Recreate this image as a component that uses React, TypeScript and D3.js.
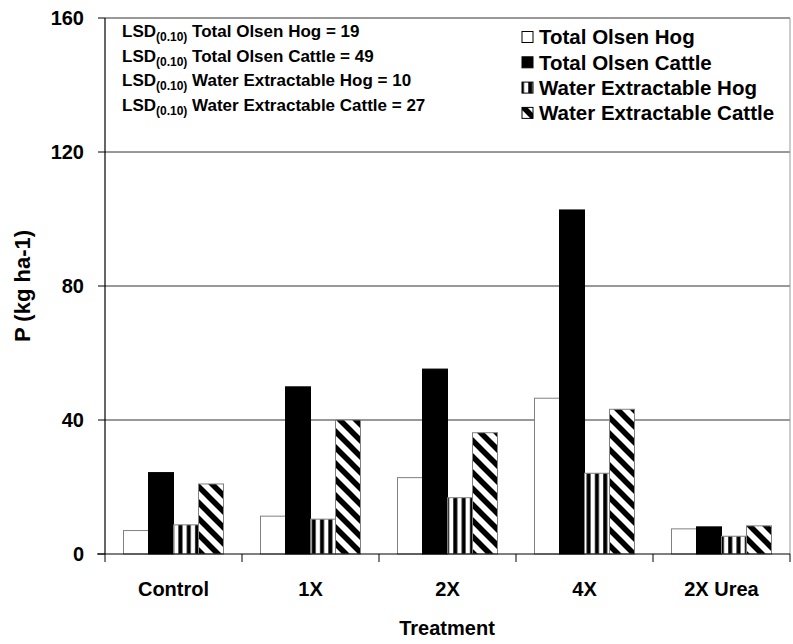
import React from "react";
import * as d3 from "d3";

const categories = ["Control", "1X", "2X", "4X", "2X Urea"];
const seriesNames = [
  "Total Olsen Hog",
  "Total Olsen Cattle",
  "Water Extractable Hog",
  "Water Extractable Cattle",
];
const totalOlsenHog = [7, 11.3, 22.8, 46.5, 7.5];
const totalOlsenCattle = [24.3, 49.9, 55.2, 102.7, 8.1];
const waterExtractableHog = [8.7, 10.4, 16.8, 24.1, 5.3];
const waterExtractableCattle = [20.9, 40, 36.2, 43.2, 8.4];
const yTicks = [0, 40, 80, 120, 160];
const lsdLabels = [
  "Total Olsen Hog = 19",
  "Total Olsen Cattle = 49",
  "Water Extractable Hog = 10",
  "Water Extractable Cattle = 27",
];

const W = 793;
const H = 644;
const M = { left: 105, right: 790, top: 18, bottom: 554 };
const FONT = "'Liberation Sans', Arial, sans-serif";

export default function App() {
  const series = [totalOlsenHog, totalOlsenCattle, waterExtractableHog, waterExtractableCattle];
  const x0 = d3.scaleBand().domain(categories).range([M.left, M.right]).paddingInner(0).paddingOuter(0);
  const barW = 25;
  const groupW = barW * 4;
  const y = d3.scaleLinear().domain([0, 160]).range([M.bottom, M.top]);

  const fills = ["#ffffff", "#000000", "url(#vstripe)", "url(#dstripe)"];
  const strokes = ["#808080", "#000000", "#808080", "#808080"];

  const bounds = categories.map((c) => x0(c) as number).concat([M.right]);

  return (
    <svg
      width={W}
      height={H}
      style={{ position: "absolute", left: 0, top: 0, background: "#fff", fontFamily: FONT }}
    >
      <defs>
        <pattern id="vstripe" patternUnits="userSpaceOnUse" width="8.33" height="8" x="0.5">
          <rect width="8.33" height="8" fill="#fff" />
          <rect x="3" width="4" height="8" fill="#000" />
        </pattern>
        <pattern id="dstripe" patternUnits="userSpaceOnUse" width="16" height="16">
          <rect width="16" height="16" fill="#fff" />
          <path d="M-4,-4 L20,20 M-4,12 L4,20 M12,-4 L20,4" stroke="#000" strokeWidth="5.5" />
        </pattern>
        <pattern id="dstripeLegend" patternUnits="userSpaceOnUse" width="11" height="11" x="522" y="31.5">
          <rect width="11" height="11" fill="#fff" />
          <path d="M0,0 L4,4" stroke="#000" strokeWidth="3" />
        </pattern>
      </defs>

      {/* gridlines */}
      {yTicks.filter((t) => t > 0).map((t) => (
        <line key={t} x1={M.left} x2={M.right} y1={y(t)} y2={y(t)} stroke="#333" strokeWidth={1} />
      ))}
      <line x1={M.right} x2={M.right} y1={M.top} y2={M.bottom} stroke="#999" strokeWidth={1} />

      {/* bars */}
      {categories.map((c, ci) => {
        const cx = (x0(c) as number) + x0.bandwidth() / 2;
        const start = cx - groupW / 2;
        return series.map((s, si) => (
          <rect
            key={c + si}
            x={start + si * barW}
            y={y(s[ci])}
            width={barW}
            height={y(0) - y(s[ci])}
            fill={fills[si]}
            stroke={strokes[si]}
            strokeWidth={1}
          />
        ));
      })}

      {/* axes */}
      <line x1={M.left} x2={M.left} y1={M.top} y2={M.bottom} stroke="#000" strokeWidth={1.2} />
      <line x1={M.left - 8} x2={M.right} y1={M.bottom} y2={M.bottom} stroke="#000" strokeWidth={1.2} />
      {yTicks.map((t) => (
        <g key={t}>
          <line x1={M.left - 7} x2={M.left} y1={y(t)} y2={y(t)} stroke="#000" />
          <text x={84} y={y(t)} dy="0.36em" textAnchor="end" fontSize={20} fontWeight="bold">
            {t}
          </text>
        </g>
      ))}
      {bounds.map((b, i) => (
        <line key={i} x1={b} x2={b} y1={M.bottom} y2={M.bottom + 8} stroke="#000" />
      ))}
      {categories.map((c) => (
        <text
          key={c}
          x={(x0(c) as number) + x0.bandwidth() / 2}
          y={596}
          textAnchor="middle"
          fontSize={20}
          fontWeight="bold"
        >
          {c}
        </text>
      ))}
      <text x={447} y={635} textAnchor="middle" fontSize={20} fontWeight="bold">
        Treatment
      </text>
      <text
        transform={`translate(30,${286}) rotate(-90)`}
        textAnchor="middle"
        fontSize={22}
        fontWeight="bold"
      >
        P (kg ha-1)
      </text>

      {/* LSD text */}
      {lsdLabels.map((l, i) => (
        <text key={l} x={122} y={37 + i * 24.6} fontSize={17} fontWeight="bold">
          LSD
          <tspan fontSize={12} dy={4}>(0.10)</tspan>
          <tspan dy={-4}> {l}</tspan>
        </text>
      ))}

      {/* legend */}
      {seriesNames.map((n, i) => {
        const ly = 37 + i * 25.3;
        return (
          <g key={n}>
            <rect x={522} y={ly - 5.5} width={11} height={11} fill={fills[i]} stroke="#000" strokeWidth={1} />
            <text x={539} y={ly} dy="0.36em" fontSize={20.5} fontWeight="bold">
              {n}
            </text>
          </g>
        );
      })}
    </svg>
  );
}
